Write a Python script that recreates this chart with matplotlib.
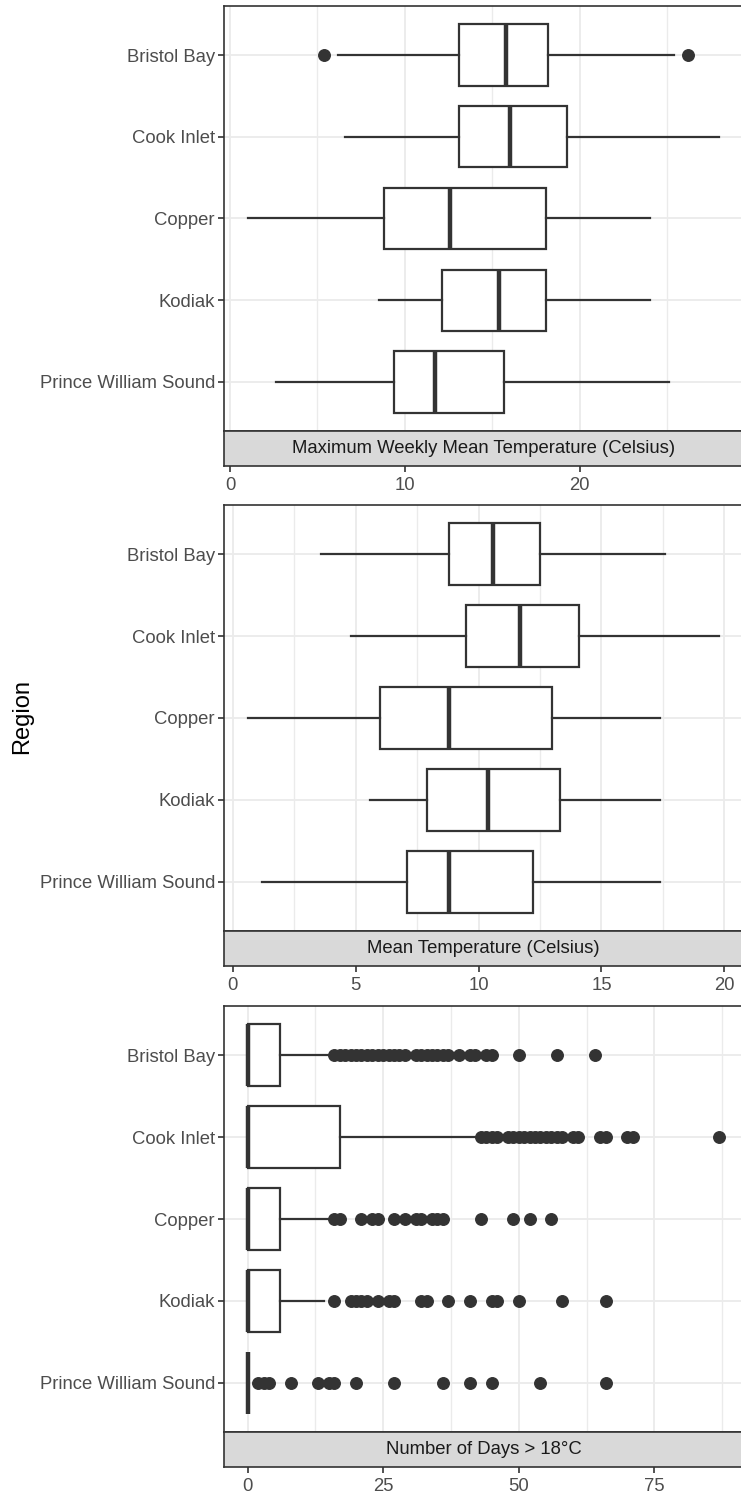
import matplotlib.pyplot as plt
from matplotlib.ticker import MultipleLocator

plt.rcParams['font.family'] = ['Liberation Sans', 'DejaVu Sans']

regions = ['Bristol Bay', 'Cook Inlet', 'Copper', 'Kodiak', 'Prince William Sound']

# maximum weekly mean temperature
mwmt_lo = [6.2, 6.6, 1.0, 8.5, 2.6]
mwmt_q1 = [13.1, 13.1, 8.8, 12.1, 9.4]
mwmt_med = [15.8, 16.0, 12.6, 15.4, 11.7]
mwmt_q3 = [18.2, 19.3, 18.1, 18.1, 15.7]
mwmt_hi = [25.4, 28.0, 24.0, 24.0, 25.1]
mwmt_out = [[5.4, 26.2], [], [], [], []]

# mean temperature
mean_lo = [3.6, 4.8, 0.6, 5.6, 1.2]
mean_q1 = [8.8, 9.5, 6.0, 7.9, 7.1]
mean_med = [10.6, 11.7, 8.8, 10.4, 8.8]
mean_q3 = [12.5, 14.1, 13.0, 13.3, 12.2]
mean_hi = [17.6, 19.8, 17.4, 17.4, 17.4]
mean_out = [[], [], [], [], []]

# number of days > 18 C
days_lo = [0, 0, 0, 0, 0]
days_q1 = [0, 0, 0, 0, 0]
days_med = [0, 0, 0, 0, 0]
days_q3 = [6, 17, 6, 6, 0]
days_hi = [15, 42, 15, 14, 0]
days_out = [
    [16, 17, 18, 19, 20, 21, 22, 23, 24, 25, 26, 27, 28, 29, 31, 32, 33, 34, 35,
     36, 37, 39, 41, 42, 44, 45, 50, 57, 64],
    [43, 44, 45, 46, 48, 49, 50, 51, 52, 53, 54, 55, 56, 57, 58, 60, 61, 65, 66,
     70, 71, 87],
    [16, 17, 21, 23, 24, 27, 29, 31, 32, 34, 35, 36, 43, 49, 52, 56],
    [16, 19, 20, 21, 22, 24, 26, 27, 32, 33, 37, 41, 45, 46, 50, 58, 66],
    [2, 3, 4, 8, 13, 15, 16, 20, 27, 36, 41, 45, 54, 66],
]

W, H = 741, 1494
fig = plt.figure(figsize=(W / 100, H / 100), dpi=100)


def box(left, top, right, bottom):
    return [left / W, 1 - bottom / H, (right - left) / W, (bottom - top) / H]


def draw_panel(top, bot, sbot, lo, q1, med, q3, hi, out, title, major, minor):
    ax = fig.add_axes(box(224, top, 743, bot))
    sx = fig.add_axes(box(224, bot, 743, sbot), sharex=ax)
    stats = []
    for i in range(len(regions)):
        stats.append(dict(whislo=lo[i], q1=q1[i], med=med[i], q3=q3[i],
                          whishi=hi[i], fliers=out[i]))
    ax.bxp(stats, positions=range(1, 6), widths=0.75, orientation='horizontal',
           showcaps=False, patch_artist=True,
           boxprops=dict(facecolor='white', edgecolor='#333333', linewidth=1.6),
           medianprops=dict(color='#333333', linewidth=3.2, solid_capstyle='butt'),
           whiskerprops=dict(color='#333333', linewidth=1.6),
           flierprops=dict(marker='o', markersize=8.3, markerfacecolor='#333333',
                           markeredgecolor='#333333', linestyle='none'))
    vals = lo + hi + [v for o in out for v in o]
    pad = 0.05 * (max(vals) - min(vals))
    ax.set_xlim(min(vals) - pad, max(vals) + pad)
    ax.set_ylim(5.6, 0.4)
    ax.set_yticks(range(1, 6))
    ax.set_yticklabels(regions)
    ax.xaxis.set_major_locator(MultipleLocator(major))
    ax.xaxis.set_minor_locator(MultipleLocator(minor))
    ax.set_axisbelow(True)
    ax.grid(which='major', color='#EBEBEB', linewidth=1.3)
    ax.grid(which='minor', axis='x', color='#EBEBEB', linewidth=1.0)
    ax.tick_params(axis='x', which='both', bottom=False, labelbottom=False)
    ax.tick_params(axis='y', length=4.5, width=1.2, color='#333333', pad=2,
                   labelsize=13.3, labelcolor='#4D4D4D')
    for s in ax.spines.values():
        s.set_color('#333333')
        s.set_linewidth(1.2)

    sx.set_facecolor('#D9D9D9')
    sx.set_ylim(0, 1)
    sx.set_yticks([])
    sx.tick_params(axis='x', which='major', length=4.5, width=1.2, color='#333333',
                   pad=3.5, labelsize=13.3, labelcolor='#4D4D4D')
    sx.tick_params(axis='x', which='minor', length=0)
    for s in sx.spines.values():
        s.set_color('#333333')
        s.set_linewidth(1.2)
    sx.text(0.5, 0.5, title, transform=sx.transAxes, ha='center', va='center',
            fontsize=13.3, color='#1A1A1A')


draw_panel(6, 431, 466, mwmt_lo, mwmt_q1, mwmt_med, mwmt_q3, mwmt_hi, mwmt_out,
           'Maximum Weekly Mean Temperature (Celsius)', 10, 5)
draw_panel(505, 931, 966, mean_lo, mean_q1, mean_med, mean_q3, mean_hi, mean_out,
           'Mean Temperature (Celsius)', 5, 2.5)
draw_panel(1006, 1432, 1467, days_lo, days_q1, days_med, days_q3, days_hi, days_out,
           'Number of Days > 18°C', 25, 12.5)

fig.text(22 / W, 1 - 717 / H, 'Region', rotation=90, ha='center', va='center',
         fontsize=17, color='black')

fig.savefig('out.png', dpi=100)
